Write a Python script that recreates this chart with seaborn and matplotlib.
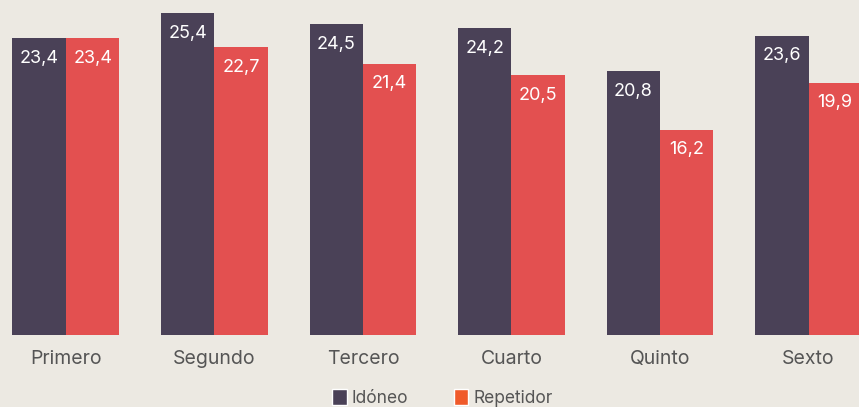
import pandas as pd
import matplotlib.pyplot as plt
import seaborn as sns
from matplotlib.patches import Patch

grados = ['Primero', 'Segundo', 'Tercero', 'Cuarto', 'Quinto', 'Sexto']
idoneo = [23.4, 25.4, 24.5, 24.2, 20.8, 23.6]
repetidor = [23.4, 22.7, 21.4, 20.5, 16.2, 19.9]

bg = '#ECE9E2'
col_id = '#4A4157'
col_rep = '#E35050'

df = pd.DataFrame({
    'grado': grados * 2,
    'valor': idoneo + repetidor,
    'tipo': ['Idóneo'] * 6 + ['Repetidor'] * 6,
})

sns.set_style('white')
plt.rcParams['font.family'] = ['Inter', 'DejaVu Sans']

fig = plt.figure(figsize=(8.59, 4.07), dpi=100, facecolor=bg)
ax = fig.add_axes([0, 0.177, 1, 0.823])
ax.set_facecolor(bg)

sns.barplot(data=df, x='grado', y='valor', hue='tipo', order=grados,
            palette={'Idóneo': col_id, 'Repetidor': col_rep},
            width=0.72, gap=0, saturation=1, legend=False,
            linewidth=0, ax=ax)

# etiquetas de valor dentro de cada barra
for cont in ax.containers:
    for bar in cont:
        h = bar.get_height()
        ax.annotate(f'{h:.1f}'.replace('.', ','),
                    (bar.get_x() + bar.get_width() / 2, h),
                    xytext=(0, -14.5), textcoords='offset points',
                    ha='center', va='center', color='white', fontsize=13)

ax.set_xlim(-0.444, 5.34)
ax.set_ylim(0, 26.42)
ax.set_xlabel('')
ax.set_ylabel('')
ax.set_yticks([])
ax.tick_params(axis='x', length=0, pad=11, labelsize=14, labelcolor='#555555')
sns.despine(ax=ax, left=True, bottom=True)

handles = [Patch(facecolor=col_id, label='Idóneo'),
           Patch(facecolor='#F05A2A', label='Repetidor')]
fig.legend(handles=handles, loc='center', bbox_to_anchor=(0.515, 0.022),
           ncol=2, frameon=False, fontsize=12.5, handlelength=0.85,
           handleheight=1.0, handletextpad=0.3, columnspacing=2.6,
           labelcolor='#555555')

fig.savefig('out.png', dpi=100, facecolor=bg)
